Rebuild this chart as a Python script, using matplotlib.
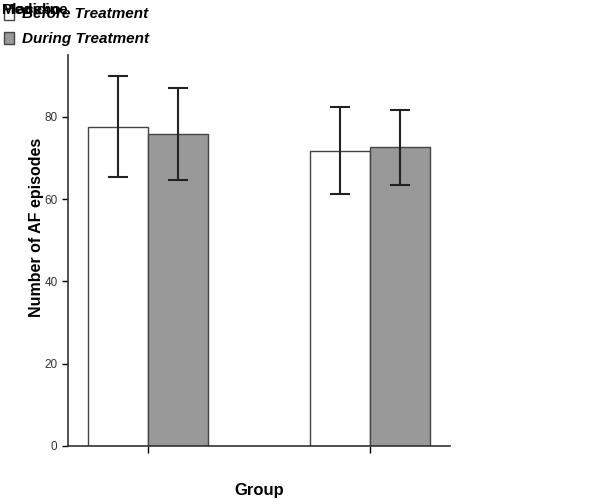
import matplotlib.pyplot as plt
import numpy as np

plt.rcParams["font.family"] = ["Liberation Sans", "DejaVu Sans"]

groups = ["Placebo", "Medicine"]
before_mean = [77.6, 71.7]
before_low = [65.4, 61.2]
before_high = [90.0, 82.4]
during_mean = [75.9, 72.7]
during_low = [64.6, 63.4]
during_high = [87.1, 81.7]


def main():

    fig = plt.figure(figsize=(6, 5.04), dpi=100)
    ax = fig.add_axes([68 / 600, 58 / 504, 382 / 600, 391 / 504])

    x = np.array([0.0, 1.0])
    w = 0.27

    before_err = [np.array(before_mean) - np.array(before_low),
                  np.array(before_high) - np.array(before_mean)]
    during_err = [np.array(during_mean) - np.array(during_low),
                  np.array(during_high) - np.array(during_mean)]

    ax.bar(x - w / 2, before_mean, w, color="white", edgecolor="#444444",
           linewidth=1.0, yerr=before_err,
           error_kw=dict(ecolor="#222222", elinewidth=1.5, capsize=7, capthick=1.5))
    ax.bar(x + w / 2, during_mean, w, color="#999999", edgecolor="#444444",
           linewidth=1.0, yerr=during_err,
           error_kw=dict(ecolor="#222222", elinewidth=1.5, capsize=7, capthick=1.5))

    ax.set_xlim(-0.36, 1.36)
    ax.set_ylim(0, 95)
    ax.set_yticks([0, 20, 40, 60, 80])
    ax.set_xticks(x)
    ax.set_xticklabels(["", ""])
    ax.tick_params(axis="y", labelsize=8.5, labelcolor="#333333", length=4, width=1)
    ax.tick_params(axis="x", length=5, width=1)

    for side in ["top", "right"]:
        ax.spines[side].set_visible(False)
    for side in ["left", "bottom"]:
        ax.spines[side].set_linewidth(1.2)
        ax.spines[side].set_color("#333333")

    ax.set_ylabel("Number of AF episodes", fontsize=11.5, fontweight="bold")
    ax.yaxis.set_label_coords(-0.063, 0.56)
    ax.set_xlabel("Group", fontsize=12, fontweight="bold", labelpad=18)

    # legend drawn by hand in the top left corner, title texts overlap as in the source
    fig.text(0.003, 0.995, groups[0], fontsize=11, fontweight="bold", va="top")
    fig.text(0.003, 0.995, groups[1], fontsize=11, fontweight="bold", va="top")

    fig.patches.append(plt.Rectangle((4 / 600, 1 - 20 / 504), 10 / 600, 12 / 504,
                                     transform=fig.transFigure, facecolor="white",
                                     edgecolor="#444444", linewidth=1))
    fig.patches.append(plt.Rectangle((4 / 600, 1 - 44 / 504), 10 / 600, 12 / 504,
                                     transform=fig.transFigure, facecolor="#999999",
                                     edgecolor="#444444", linewidth=1))
    fig.text(22 / 600, 1 - 14 / 504, "Before Treatment", fontsize=11,
             fontweight="bold", style="italic", va="center")
    fig.text(22 / 600, 1 - 39 / 504, "During Treatment", fontsize=11,
             fontweight="bold", style="italic", va="center")

    fig.savefig("out.png", dpi=100)


if __name__ == "__main__":

    main()
